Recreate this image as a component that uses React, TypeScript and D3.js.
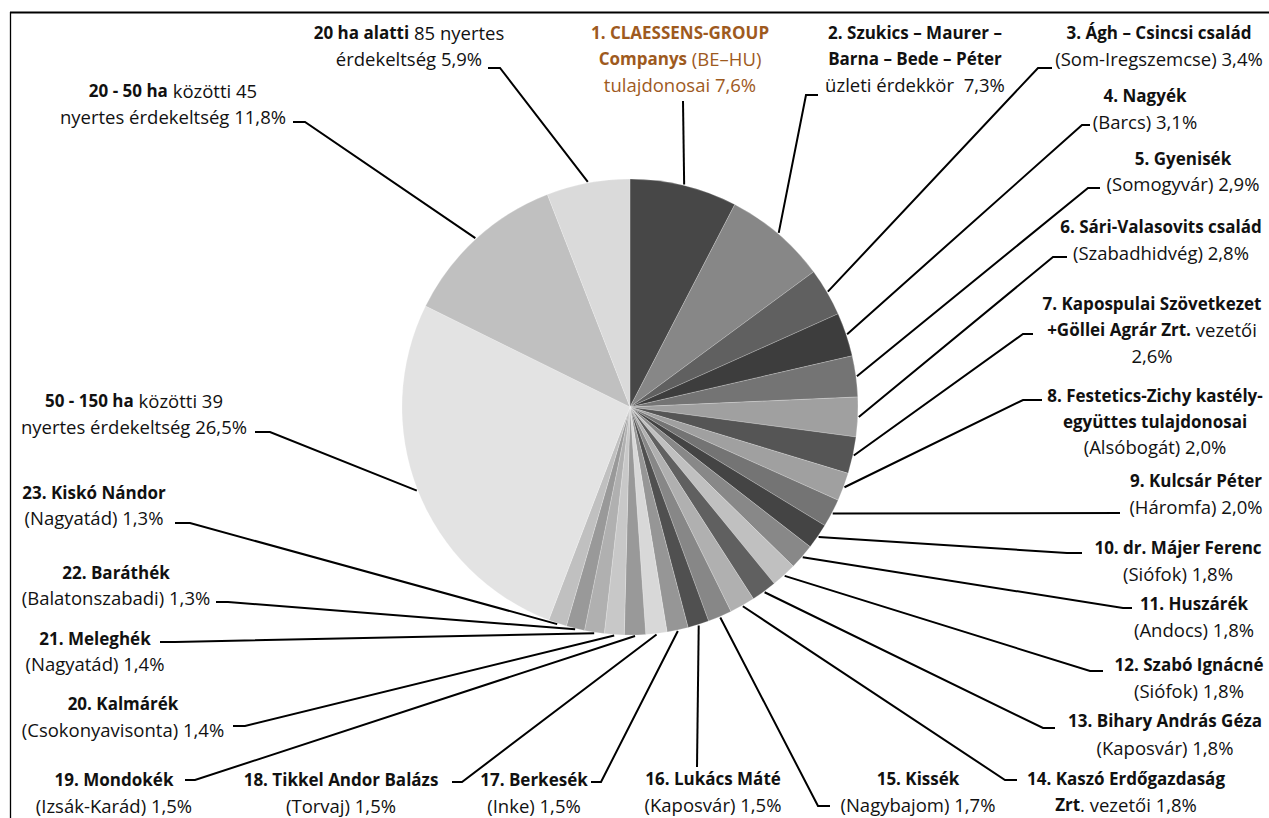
import React from "react";
import * as d3 from "d3";

// ---- data (clockwise from 12 o'clock) ----
const values: number[] = [7.6, 7.3, 3.4, 3.1, 2.9, 2.8, 2.6, 2.0, 2.0, 1.8, 1.8, 1.8, 1.8, 1.8, 1.7, 1.5, 1.5, 1.5, 1.5, 1.4, 1.4, 1.3, 1.3, 26.5, 11.8, 5.9];

const sliceColors: string[] = [
  "#474747", "#878787", "#606060", "#3d3d3d", "#747474", "#a0a0a0", "#555555", "#a0a0a0", "#747474",
  "#444444", "#888888", "#c0c0c0", "#606060", "#b0b0b0", "#878787", "#505050", "#969696", "#d8d8d8",
  "#999999", "#c8c8c8", "#b0b0b0", "#999999", "#c0c0c0", "#e3e3e3", "#c0c0c0", "#dadada",
];

// label text: each line is a list of [text, bold]; {v} is replaced by the value
type Seg = [string, boolean];
const labelLines: Seg[][][] = [
  [[["1. CLAESSENS-GROUP", true]], [["Companys", true], [" (BE–HU)", false]], [["tulajdonosai {v}", false]]],
  [[["2. Szukics – Maurer –", true]], [["Barna – Bede – Péter", true]], [["üzleti érdekkör  {v}", false]]],
  [[["3. Ágh – Csincsi család", true]], [["(Som-Iregszemcse) {v}", false]]],
  [[["4. Nagyék", true]], [["(Barcs) {v}", false]]],
  [[["5. Gyenisék", true]], [["(Somogyvár) {v}", false]]],
  [[["6. Sári-Valasovits család", true]], [["(Szabadhidvég) {v}", false]]],
  [[["7. Kapospulai Szövetkezet", true]], [["+Göllei Agrár Zrt.", true], [" vezetői", false]], [["{v}", false]]],
  [[["8. Festetics-Zichy kastély-", true]], [["együttes tulajdonosai", true]], [["(Alsóbogát) {v}", false]]],
  [[["9. Kulcsár Péter", true]], [["(Háromfa) {v}", false]]],
  [[["10. dr. Májer Ferenc", true]], [["(Siófok) {v}", false]]],
  [[["11. Huszárék", true]], [["(Andocs) {v}", false]]],
  [[["12. Szabó Ignácné", true]], [["(Siófok) {v}", false]]],
  [[["13. Bihary András Géza", true]], [["(Kaposvár) {v}", false]]],
  [[["14. Kaszó Erdőgazdaság", true]], [["Zrt", true], [". vezetői {v}", false]]],
  [[["15. Kissék", true]], [["(Nagybajom) {v}", false]]],
  [[["16. Lukács Máté", true]], [["(Kaposvár) {v}", false]]],
  [[["17. Berkesék", true]], [["(Inke) {v}", false]]],
  [[["18. Tikkel Andor Balázs", true]], [["(Torvaj) {v}", false]]],
  [[["19. Mondokék", true]], [["(Izsák-Karád) {v}", false]]],
  [[["20. Kalmárék", true]], [["(Csokonyavisonta) {v}", false]]],
  [[["21. Meleghék", true]], [["(Nagyatád) {v}", false]]],
  [[["22. Baráthék", true]], [["(Balatonszabadi) {v}", false]]],
  [[["23. Kiskó Nándor", true]], [["(Nagyatád) {v}", false]]],
  [[["50 - 150 ha", true], [" közötti 39", false]], [["nyertes érdekeltség {v}", false]]],
  [[["20 - 50 ha", true], [" közötti 45", false]], [["nyertes érdekeltség {v}", false]]],
  [[["20 ha alatti", true], [" 85 nyertes", false]], [["érdekeltség {v}", false]]],
];

// label layout: [centerX, firstLineY, lineGap]
const labelPos: [number, number, number][] = [
  [680, 32, 26], [915, 32, 26], [1159, 32, 26], [1145, 95, 26], [1183, 158, 25], [1161, 226, 26],
  [1152, 303, 26], [1155, 395, 25.5], [1196, 480, 26], [1178, 547, 26], [1194, 603, 25.5], [1189, 664, 26],
  [1165, 720, 26.5], [1126, 778, 26], [918, 778, 26], [713, 778, 26], [534, 779, 26], [341, 779, 26],
  [114, 779, 26], [123, 703, 26], [95, 638, 25], [116, 572, 25], [94, 492, 25], [134, 400, 25.5],
  [173, 90, 25.5], [409, 32, 26],
];

// leader line points on the label side (the slice end is computed from the arc)
const leaderPts: [number, number][][] = [
  [[683, 101]], [[818, 95], [806, 95]], [[1052, 68], [1038, 68]], [[1090, 125], [1082, 125]],
  [[1100, 188], [1088, 188]], [[1067, 257], [1053, 257]], [[1033, 334], [1023, 334]], [[1042, 400], [1023, 400]],
  [[1120, 513]], [[1082, 553], [1067, 553]], [[1132, 608], [1123, 608]], [[1103, 671], [1090, 671]],
  [[1055, 728], [1043, 728]], [[1017, 780], [1005, 780]], [[830, 806], [818, 806]], [[697, 767]],
  [[591, 782], [601, 782]], [[452, 782], [462, 782]], [[185, 780], [195, 780]], [[233, 726], [245, 726]],
  [[160, 642], [175, 642]], [[216, 602], [228, 602]], [[175, 523], [190, 523]], [[255, 432], [270, 432]],
  [[293, 122], [305, 122]], [[488, 68], [500, 68]],
];

const W = 1269;
const H = 818;
const CX = 630;
const CY = 407;
const R = 228;
const FONT = "'Open Sans', sans-serif";
const BROWN = "#9e5a1e";

const fmt = (v: number) => v.toFixed(1).replace(".", ",") + "%";

export default function App() {
  const arcs = d3.pie<number>().sort(null).value((d) => d)(values);
  const arcGen = d3.arc<d3.PieArcDatum<number>>().innerRadius(0).outerRadius(R);
  const edge = d3.arc<d3.PieArcDatum<number>>().innerRadius(R + 1).outerRadius(R + 1);
  const line = d3.line();

  return (
    <svg width={W} height={H} style={{ position: "absolute", left: 0, top: 0, background: "#fff" }} fontFamily={FONT}>
      <line x1={10} y1={12.5} x2={W} y2={12.5} stroke="#000" strokeWidth={2} />
      <line x1={10.5} y1={12} x2={10.5} y2={H} stroke="#000" strokeWidth={1.3} />
      <g transform={`translate(${CX},${CY})`}>
        {arcs.map((a, i) => (
          <path key={i} d={arcGen(a) || ""} fill={sliceColors[i]} stroke="#ffffff" strokeOpacity={0.35} strokeWidth={0.6} />
        ))}
      </g>
      {arcs.map((a, i) => {
        const [ex, ey] = edge.centroid(a);
        const pts: [number, number][] = [...leaderPts[i], [CX + ex, CY + ey]];
        return <path key={"l" + i} d={line(pts) || ""} fill="none" stroke="#000" strokeWidth={2} />;
      })}
      {labelLines.map((lines, i) => {
        const [x, y0, gap] = labelPos[i];
        const color = i === 0 ? BROWN : "#111111";
        return (
          <g key={"t" + i} fill={color}>
            {lines.map((segs, j) => (
              <text key={j} x={x} y={y0 + j * gap} textAnchor="middle" dominantBaseline="central" style={{ whiteSpace: "pre" }}>
                {segs.map(([t, b], k) => (
                  <tspan key={k} fontWeight={b ? 700 : 400} fontSize={b ? 17 : 18.5}>
                    {t.replace("{v}", fmt(values[i]))}
                  </tspan>
                ))}
              </text>
            ))}
          </g>
        );
      })}
    </svg>
  );
}
